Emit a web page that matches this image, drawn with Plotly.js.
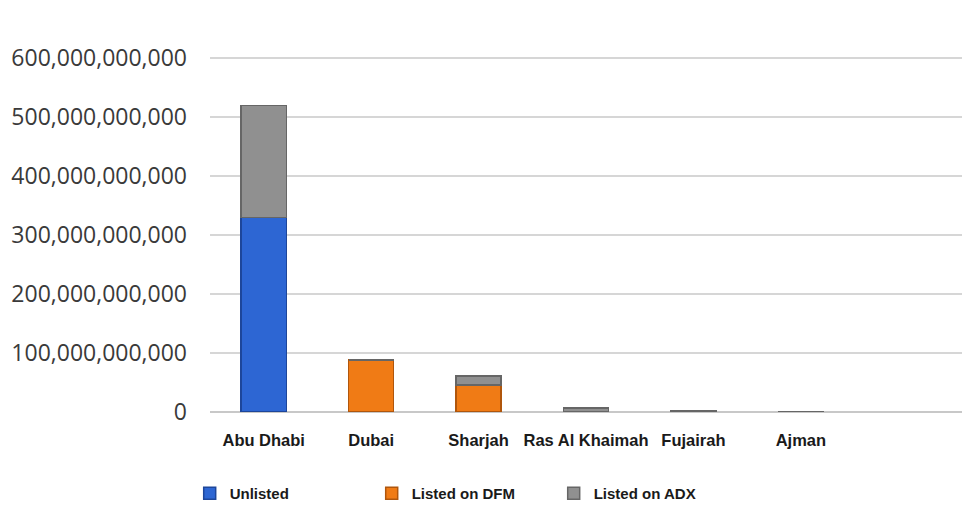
<!DOCTYPE html>
<html>
<head>
<meta charset="utf-8">
<script src="https://cdn.plot.ly/plotly-3.0.1.min.js"></script>
<style>
  html, body { margin: 0; padding: 0; background: #fff; }
  #chart { width: 962px; height: 510px; }
</style>
</head>
<body>
<div id="chart"></div>
<script>
// Emirates and market value by listing status (AED)
const emirates = ["Abu Dhabi", "Dubai", "Sharjah", "Ras Al Khaimah", "Fujairah", "Ajman"];
const unlisted = [330e9, 0, 0, 0, 0, 0];
const listedDFM = [0, 88e9, 46e9, 0, 0, 0];
const listedADX = [190e9, 0, 15e9, 7e9, 2e9, 0.6e9];
const yTicks = [0, 100e9, 200e9, 300e9, 400e9, 500e9, 600e9];
const yTickText = ["0", "100,000,000,000", "200,000,000,000", "300,000,000,000",
                   "400,000,000,000", "500,000,000,000", "600,000,000,000"];

const barWidth = 0.42;

const traces = [
  {
    type: "bar", name: "Unlisted", x: emirates, y: unlisted, width: barWidth,
    marker: { color: "#2d66d3", line: { color: "#1d469a", width: 1.5 } }
  },
  {
    type: "bar", name: "Listed on DFM", x: emirates, y: listedDFM, width: barWidth,
    marker: { color: "#f07b15", line: { color: "#b0560c", width: 1.5 } }
  },
  {
    type: "bar", name: "Listed on ADX", x: emirates, y: listedADX, width: barWidth,
    marker: { color: "#909090", line: { color: "#666666", width: 1.5 } }
  }
];

const layout = {
  width: 962, height: 510,
  margin: { l: 210, r: 0, t: 57, b: 98 },
  paper_bgcolor: "#ffffff", plot_bgcolor: "#ffffff",
  barmode: "stack",
  showlegend: true,
  font: { family: "Liberation Sans, Arial, sans-serif", color: "#222" },
  xaxis: {
    type: "category",
    range: [-0.5, 6.5],
    showgrid: false, zeroline: false, showline: false,
    ticks: "", ticklabelstandoff: 16,
    tickfont: { size: 16.5, color: "#1a1a1a", weight: "bold" }
  },
  yaxis: {
    range: [0, 602e9],
    tickvals: yTicks, ticktext: yTickText,
    showgrid: true, gridcolor: "#d6d6d6", gridwidth: 2,
    zeroline: true, zerolinecolor: "#c8c8c8", zerolinewidth: 2,
    showline: false, ticks: "", ticklabelstandoff: 22,
    tickfont: { family: "Open Sans, sans-serif", size: 23, color: "#3a3a3a" }
  },
  legend: {
    orientation: "h", x: -0.027, xanchor: "left", y: -0.23, yanchor: "middle",
    entrywidth: 137, entrywidthmode: "pixels",
    traceorder: "normal",
    font: { size: 15, color: "#1a1a1a", weight: "bold" },
    itemwidth: 30
  }
};

Plotly.newPlot("chart", traces, layout, { displayModeBar: false, staticPlot: true });
</script>
</body>
</html>
